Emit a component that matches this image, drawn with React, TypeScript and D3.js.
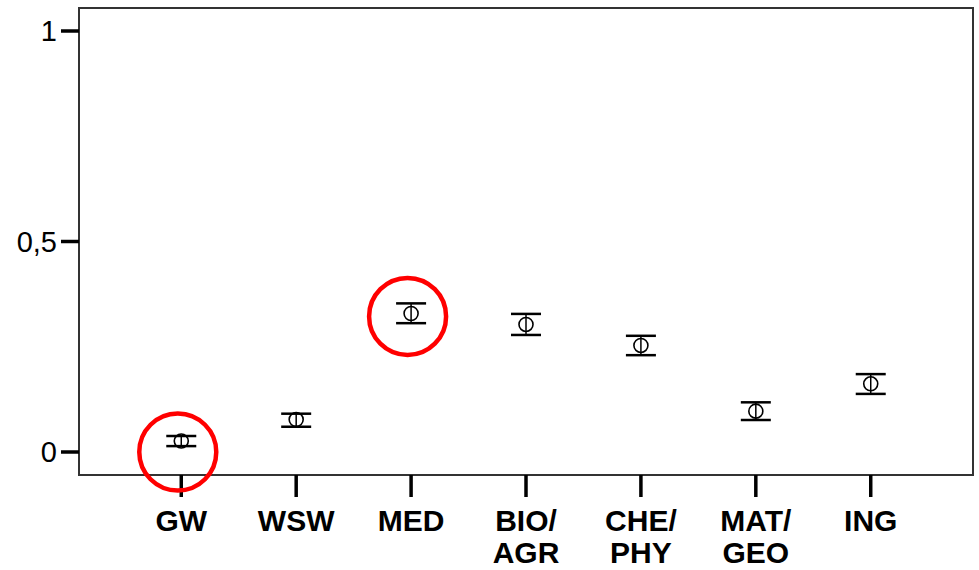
import { scaleLinear, scalePoint } from 'd3';

// Mean ± CI per faculty group, SPSS-style error bar chart with two highlighted groups.

const categories = ['GW', 'WSW', 'MED', 'BIO/AGR', 'CHE/PHY', 'MAT/GEO', 'ING'];
const means = [0.026, 0.077, 0.329, 0.303, 0.253, 0.097, 0.162];
const upper = [0.038, 0.091, 0.353, 0.328, 0.276, 0.118, 0.185];
const lower = [0.014, 0.060, 0.306, 0.278, 0.230, 0.076, 0.138];
const yTicks = [0, 0.5, 1];
const yTickLabels = ['0', '0,5', '1'];
const highlighted = ['GW', 'MED'];
const highlightValues = [0.0, 0.322];

const W = 979;
const H = 570;
const m = { left: 79, right: 6, top: 8, bottom: 95 };

export default function App() {
  const x = scalePoint<string>().domain(categories).range([m.left, W - m.right]).padding(0.89);
  const y = scaleLinear().domain([0, 1]).range([452, 31]);
  const font = '"Liberation Sans", Arial, sans-serif';
  const capW = 15;

  return (
    <svg width={W} height={H} style={{ position: 'absolute', left: 0, top: 0, background: '#fff' }}>
      {/* frame */}
      <rect x={m.left} y={m.top} width={W - m.left - m.right} height={H - m.top - m.bottom} fill="none" stroke="#333" strokeWidth={2} />

      {/* y axis */}
      {yTicks.map((t, i) => (
        <g key={t}>
          <line x1={61} x2={m.left} y1={y(t)} y2={y(t)} stroke="#000" strokeWidth={3.5} />
          <text x={57} y={y(t)} dy="0.36em" textAnchor="end" fontFamily={font} fontSize={29} fill="#000">
            {yTickLabels[i]}
          </text>
        </g>
      ))}

      {/* x axis */}
      {categories.map((c) => {
        const cx = x(c)!;
        const lines = c.includes('/') ? [c.split('/')[0] + '/', c.split('/')[1]] : [c];
        return (
          <g key={c}>
            <line x1={cx} x2={cx} y1={H - m.bottom} y2={497} stroke="#000" strokeWidth={3.5} />
            <text textAnchor="middle" fontFamily={font} fontSize={30} fontWeight="bold" fill="#000">
              {lines.map((l, j) => (
                <tspan key={j} x={cx} y={531 + j * 32}>
                  {l}
                </tspan>
              ))}
            </text>
          </g>
        );
      })}

      {/* error bars */}
      {categories.map((c, i) => {
        const cx = x(c)!;
        return (
          <g key={c} stroke="#000" fill="none">
            <line x1={cx} x2={cx} y1={y(upper[i])} y2={y(lower[i])} strokeWidth={1.5} />
            <line x1={cx - capW} x2={cx + capW} y1={y(upper[i])} y2={y(upper[i])} strokeWidth={2.5} />
            <line x1={cx - capW} x2={cx + capW} y1={y(lower[i])} y2={y(lower[i])} strokeWidth={2.5} />
            <circle cx={cx} cy={y(means[i])} r={7} strokeWidth={1.6} />
          </g>
        );
      })}

      {/* highlight rings */}
      {highlighted.map((c, i) => (
        <circle key={c} cx={x(c)! - 3.5} cy={y(highlightValues[i])} r={38.5} fill="none" stroke="#f00" strokeWidth={4.5} />
      ))}
    </svg>
  );
}
